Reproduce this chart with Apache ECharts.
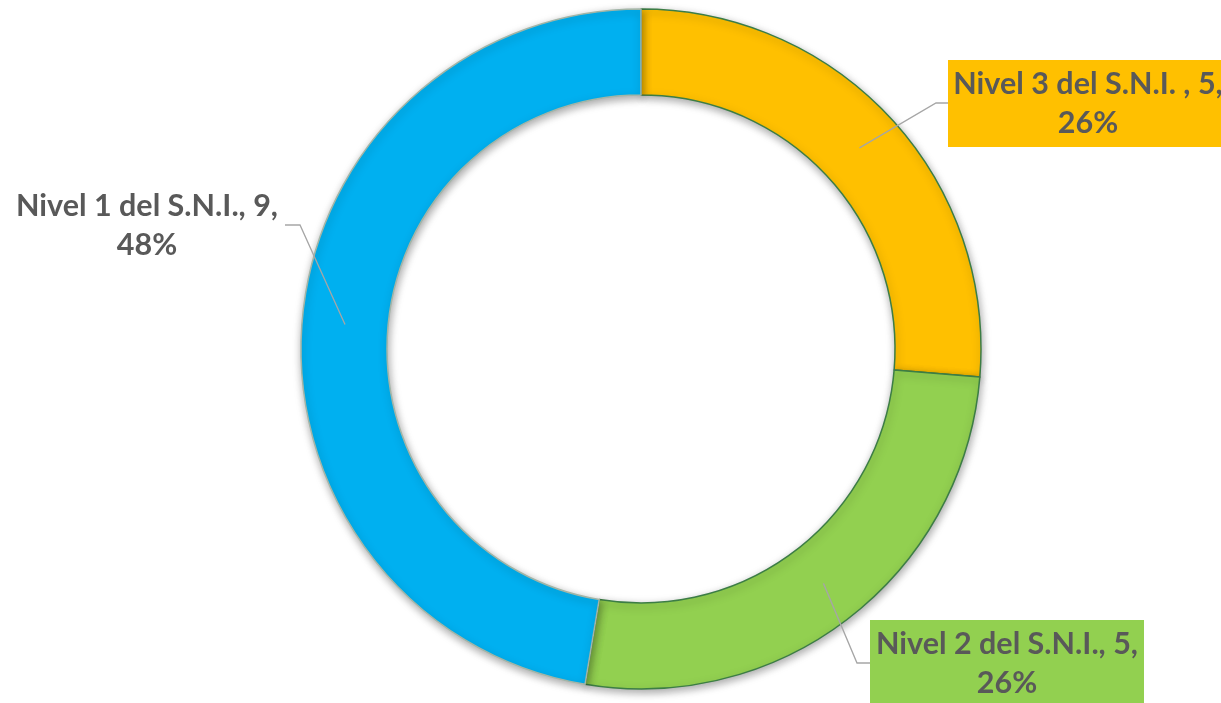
<!DOCTYPE html>
<html><head><meta charset="utf-8">
<script src="https://cdn.jsdelivr.net/npm/echarts@6/dist/echarts.min.js"></script>
<style>html,body{margin:0;padding:0;background:#fff}#c{width:1221px;height:703px}</style>
</head><body><div id="c"></div>
<script>
const categories = ['Nivel 3 del S.N.I. ', 'Nivel 2 del S.N.I.', 'Nivel 1 del S.N.I.'];
const values = [5, 5, 9];
const percentLabels = ['26%', '26%', '48%'];

const colors = ['#FFC000', '#92D050', '#00B0F0'];
const borderColors = ['#3C7D45', '#3C7D45', '#A3B5A6'];
const labelBg = ['#FFC000', '#92D050', 'transparent'];
const labelWidth = [280, 274, 280];
const labelPos = [
  {x: 1088, y: 103.5, elbow: [936, 103], end: [948, 103]},
  {x: 1007, y: 663.5, elbow: [857, 663], end: [870, 663]},
  {x: 147, y: 226, elbow: [300, 225], end: [285, 225]}
];

const chart = echarts.init(document.getElementById('c'), null, {renderer: 'canvas'});
chart.setOption({
  animation: false,
  series: [{
    type: 'pie',
    center: [641, 349],
    radius: [254, 340],
    startAngle: 90,
    clockwise: true,
    avoidLabelOverlap: false,
    emphasis: {disabled: true},
    data: categories.map((n, i) => ({
      name: n, value: values[i],
      itemStyle: {color: colors[i], borderColor: borderColors[i]},
      label: {backgroundColor: labelBg[i], width: labelWidth[i]}
    })),
    itemStyle: {borderWidth: 1.5, shadowBlur: 8, shadowColor: 'rgba(0,0,0,0.35)', shadowOffsetY: 3, shadowOffsetX: 1},
    label: {
      show: true, position: 'outside',
      formatter: p => p.name + ', ' + p.value + ',\n' + percentLabels[p.dataIndex],
      fontFamily: 'Lato', fontWeight: 'bold', fontSize: 30.5, color: '#595959',
      lineHeight: 39, align: 'center', padding: [5, 0, 4, 0]
    },
    labelLine: {show: false},
    labelLayout: p => {
      const L = labelPos[p.dataIndex];
      return {x: L.x, y: L.y, align: 'center', verticalAlign: 'middle'};
    }
  }]
});
// leader lines: start at the middle of each ring segment (from the library's layout)
const pieData = chart.getModel().getSeriesByIndex(0).getData();
const leaders = categories.map((c, i) => {
  const lay = pieData.getItemLayout(i);
  const mid = (lay.startAngle + lay.endAngle) / 2;
  const r = (lay.r + lay.r0) / 2;
  const a = [lay.cx + r * Math.cos(mid), lay.cy + r * Math.sin(mid)];
  return {
    type: 'polyline', z: 100, silent: true,
    shape: {points: [a, labelPos[i].elbow, labelPos[i].end]},
    style: {stroke: '#A6A6A6', lineWidth: 1.3, fill: null}
  };
});
chart.setOption({graphic: leaders});
</script></body></html>
